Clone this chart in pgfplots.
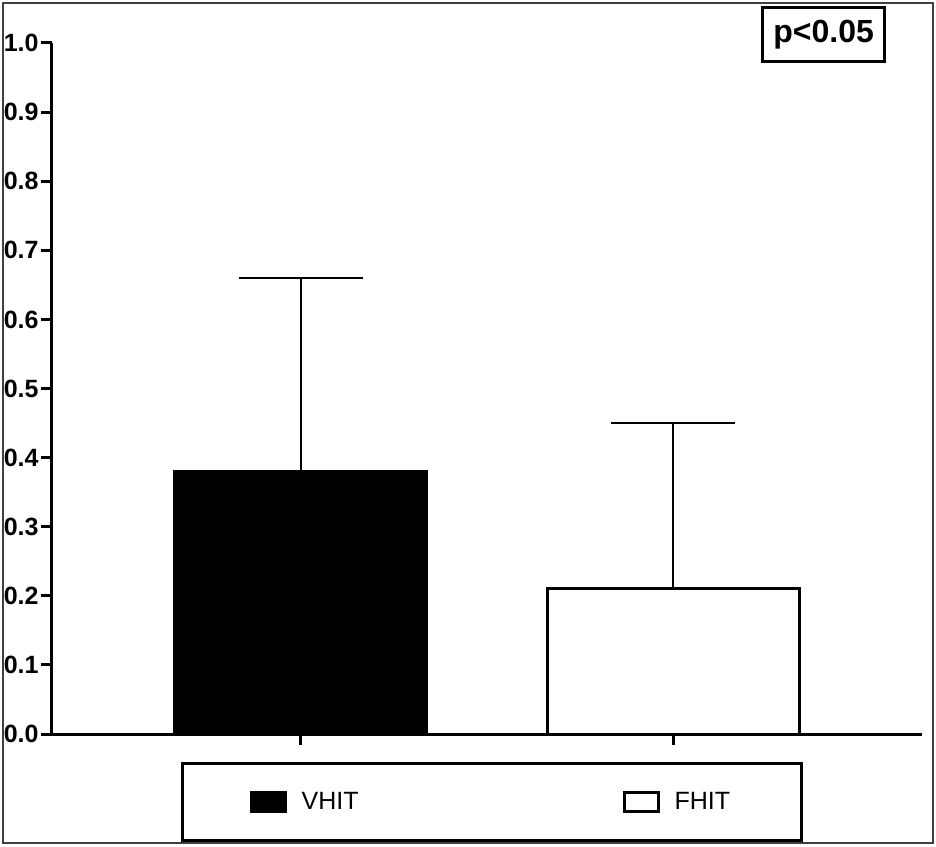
\documentclass[border=0pt]{standalone}
\usepackage{fontspec}
\setmainfont{Liberation Sans}
\usepackage{pgfplots}
\pgfplotsset{compat=1.18}
\pgfplotsset{mylegend/.style={legend image code/.code={\draw[##1, line width=1.5pt] (0.75pt,-4.75pt) rectangle (17.75pt,4.75pt); \path[draw=none, fill=none] (17.75pt,0pt) -- (24pt,0pt);}}}
\begin{document}
\begin{tikzpicture}
\useasboundingbox (-26pt,-56pt) rectangle (442pt,367pt);
\draw[line width=1pt, black!75] (-24.5pt,-54.5pt) rectangle (440.5pt,365.5pt);
\begin{axis}[
  at={(0pt,0pt)}, anchor=south west,
  scale only axis, width=435pt, height=345.5pt,
  xmin=-0.669, xmax=1.669, ymin=0, ymax=1,
  clip=false,
  axis x line*=bottom, axis y line*=left,
  axis line style={line width=1.5pt, black, -},
  tick align=outside,
  major tick length=5.5pt,
  tick style={line width=1.5pt, black},
  xtick={0,1}, xticklabels={,},
  ytick={0,0.1,0.2,0.3,0.4,0.5,0.6,0.7,0.8,0.9,1},
  yticklabels={0.0,0.1,0.2,0.3,0.4,0.5,0.6,0.7,0.8,0.9,1.0},
  yticklabel style={font=\bfseries\fontsize{12.5}{14}\selectfont, inner xsep=1pt},
  legend style={at={(0.5057,-0.0984)}, anchor=center, draw=black, line width=1.5pt,
    legend columns=2, font=\fontsize{12.5}{14}\selectfont,
    inner xsep=33.5pt, inner ysep=12pt,
    /tikz/every even column/.append style={column sep=130pt}},
  error bars/error bar style={line width=1pt, black},
  error bars/error mark options={rotate=90, mark size=31pt, line width=1pt, black},
]
\addplot[ybar, bar width=0.677, bar shift=0pt, fill=black, draw=black, line width=1.5pt, mylegend,
  error bars/.cd, y dir=plus, y explicit] coordinates {(0,0.38) +- (0,0.28)};
\addlegendentry{VHIT}
\addplot[ybar, bar width=0.677, bar shift=0pt, fill=white, draw=black, line width=1.5pt, mylegend,
  error bars/.cd, y dir=plus, y explicit] coordinates {(1,0.21) +- (0,0.24)};
\addlegendentry{FHIT}
\node[draw=black, line width=1.5pt, font=\bfseries\fontsize{16}{18}\selectfont,
  minimum width=61pt, minimum height=27pt, inner sep=0pt]
  at (rel axis cs:0.887,1.0116) {p<0.05};
\end{axis}
\end{tikzpicture}
\end{document}
